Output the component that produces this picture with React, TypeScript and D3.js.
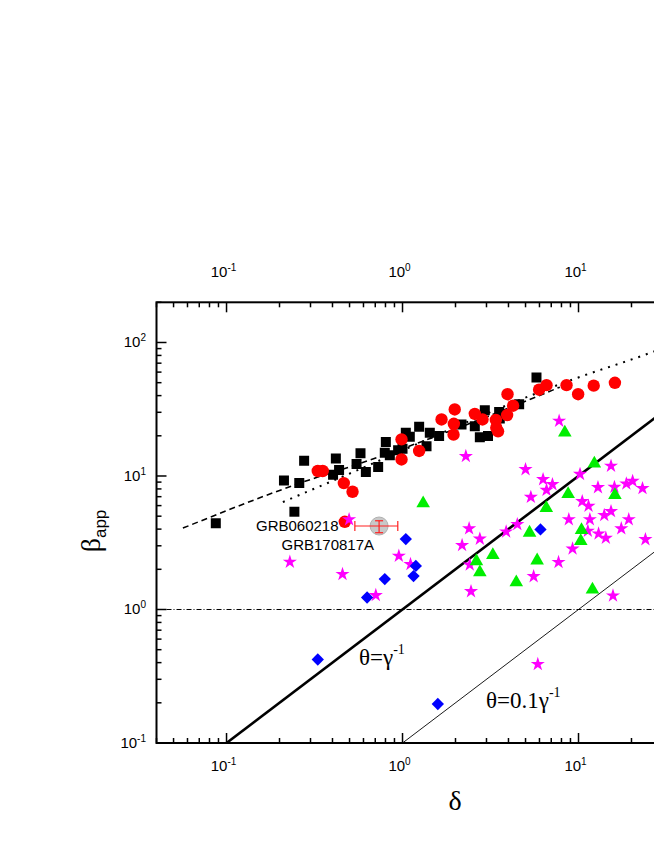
import React from 'react';
import * as d3 from 'd3';

// [delta, beta_app]
const squares: [number, number][] = [
  [0.0869, 4.42], [0.212, 9.24], [0.259, 8.85], [0.276, 13.0], [0.243, 5.40],
  [0.418, 13.5], [0.436, 11.1], [0.403, 10.2], [0.548, 12.3], [0.577, 14.8],
  [0.619, 10.7], [0.727, 11.7], [0.793, 14.9], [0.804, 18.0], [0.847, 14.3],
  [0.944, 15.6], [1.0, 16.0], [1.044, 21.1], [1.10, 19.7], [1.243, 23.4],
  [1.369, 16.7], [1.429, 21.1], [1.614, 19.9], [2.164, 24.3], [2.575, 23.6],
  [2.935, 31.1], [3.54, 30.2], [3.57, 27.0], [2.75, 19.5], [3.06, 19.9],
  [4.60, 34.5], [5.77, 54.7],
];
const circles: [number, number][] = [
  [0.330, 10.9], [0.352, 10.9], [0.464, 8.85], [0.520, 7.62], [0.470, 4.54],
  [0.987, 18.8], [0.987, 13.3], [1.243, 15.4], [1.666, 26.5], [1.98, 31.5],
  [1.957, 24.6], [1.95, 20.4], [2.575, 29.2], [2.848, 26.5], [3.39, 26.3],
  [3.95, 41.0], [4.25, 33.6], [3.93, 28.6], [3.49, 21.6], [3.41, 23.0],
  [5.97, 44.3], [6.58, 47.9], [8.55, 47.9], [9.95, 41.0], [12.2, 47.5], [16.1, 49.9],
];
const stars: [number, number][] = [
  [0.229, 2.31], [0.456, 1.87], [0.497, 4.81], [0.705, 1.30], [0.953, 2.56],
  [1.11, 2.22], [7.76, 26.3], [2.29, 14.3], [5.0, 11.4], [6.29, 9.59],
  [7.11, 8.80], [6.58, 7.98], [5.36, 7.07], [10.2, 10.5], [15.3, 12.1],
  [12.9, 8.36], [16.0, 8.40], [18.7, 8.90], [20.3, 9.32], [23.1, 8.22],
  [10.5, 6.57], [11.4, 6.06], [15.3, 5.53], [14.0, 5.17], [11.6, 4.81],
  [8.81, 4.81], [19.3, 4.81], [17.5, 4.11], [4.49, 4.42], [3.88, 3.89],
  [2.39, 4.11], [2.75, 3.44], [2.18, 3.08], [11.3, 3.94], [13.0, 3.76],
  [14.3, 3.49], [9.25, 2.90], [24.0, 3.41], [7.70, 2.30], [2.41, 2.20],
  [5.56, 1.80], [2.45, 1.39], [15.7, 1.29], [5.87, 0.396],
];
const triangles: [number, number][] = [
  [8.36, 21.1], [12.3, 12.4], [1.31, 6.24], [8.73, 7.32], [16.1, 7.19],
  [6.56, 5.75], [5.27, 3.76], [10.4, 3.94], [10.3, 3.26], [3.26, 2.56],
  [5.82, 2.33], [2.63, 2.30], [2.75, 1.90], [4.43, 1.60], [12.0, 1.41],
];
const diamonds: [number, number][] = [
  [1.044, 3.37], [0.793, 1.69], [0.629, 1.23], [1.19, 2.12], [1.155, 1.78],
  [0.330, 0.422], [1.587, 0.196], [6.08, 3.98],
];
const grbPoint = { d: 0.736, b: 4.22, dLo: 0.536, dHi: 0.94, bLo: 3.76, bHi: 4.62 };
const dashedCurve: [number, number][] = [
  [0.0565, 4.07], [0.33, 9.82], [0.50, 11.7], [2.03, 22.7], [7.83, 46.3],
];
const dottedCurve: [number, number][] = [
  [0.209, 6.38], [0.386, 9.0], [9.3, 52.9], [26.5, 85.1], [40, 105],
];
const thetaLine: [number, number][] = [[0.1, 0.1], [200, 200]];
const thetaTenthLine: [number, number][] = [[1, 0.1], [2000, 200]];
const xMajor = [0.1, 1, 10, 100];
const xMajorExp = ['-1', '0', '1', '2'];
const yMajor = [0.1, 1, 10, 100];
const yMajorExp = ['-1', '0', '1', '2'];

const W = 654;
const H = 846;
const SANS = "'Liberation Sans', Arial, sans-serif";
const SERIF = "'Liberation Serif', 'Times New Roman', serif";

export default function App() {
  const x = d3.scaleLog().domain([0.04, 100]).range([156.5, 754.5]);
  const y = d3.scaleLog().domain([0.1, 200]).range([743, 302.3]);
  const [x0, x1] = x.range();
  const [y0, y1] = y.range();

  const line = d3
    .line<[number, number]>()
    .x((d) => x(d[0]))
    .y((d) => y(d[1]))
    .curve(d3.curveMonotoneX);
  const straight = d3
    .line<[number, number]>()
    .x((d) => x(d[0]))
    .y((d) => y(d[1]));

  const sq = d3.symbol().type(d3.symbolSquare).size(100)();
  const st = d3.symbol().type(d3.symbolStar).size(62)();
  const tr = d3.symbol().type(d3.symbolTriangle).size(80)();
  const di = d3.symbol().type(d3.symbolSquare).size(76)();

  const xt = x.ticks();
  const yt = y.ticks();
  const isMajor = (v: number) => Math.abs(Math.log10(v) - Math.round(Math.log10(v))) < 1e-6;

  return (
    <svg
      width={W}
      height={H}
      style={{ position: 'absolute', left: 0, top: 0, background: '#fff' }}
    >
      <defs>
        <clipPath id="plot">
          <rect x={x0} y={y1} width={x1 - x0} height={y0 - y1} />
        </clipPath>
      </defs>
      <g clipPath="url(#plot)">
        <line x1={x0} x2={x1} y1={y(1)} y2={y(1)} stroke="#000" strokeWidth={1} strokeDasharray="5,2,1,2" />
        <path d={straight(thetaLine) || ''} fill="none" stroke="#000" strokeWidth={2.6} />
        <path d={straight(thetaTenthLine) || ''} fill="none" stroke="#000" strokeWidth={0.9} />
        <path d={line(dashedCurve) || ''} fill="none" stroke="#000" strokeWidth={1.6} strokeDasharray="6,4" />
        <path d={line(dottedCurve) || ''} fill="none" stroke="#000" strokeWidth={2} strokeDasharray="2,6" />
        {squares.map((d, i) => (
          <path key={'s' + i} d={sq} transform={`translate(${x(d[0])},${y(d[1])})`} fill="#000" />
        ))}
        {circles.map((d, i) => (
          <circle key={'c' + i} cx={x(d[0])} cy={y(d[1])} r={6.2} fill="#ff0000" />
        ))}
        {stars.map((d, i) => (
          <path key={'st' + i} d={st} transform={`translate(${x(d[0])},${y(d[1]) + 1})`} fill="#ff00ff" />
        ))}
        {triangles.map((d, i) => (
          <path key={'t' + i} d={tr} transform={`translate(${x(d[0])},${y(d[1])})`} fill="#00ee00" />
        ))}
        {diamonds.map((d, i) => (
          <path key={'d' + i} d={di} transform={`translate(${x(d[0])},${y(d[1])}) rotate(45)`} fill="#0000ff" />
        ))}
        <circle cx={x(grbPoint.d)} cy={y(grbPoint.b)} r={9} fill="#c8c8c8" stroke="#b0b0b0" strokeWidth={1} />
        <g stroke="#ff2020" strokeWidth={1.2}>
          <line x1={x(grbPoint.dLo)} x2={x(grbPoint.dHi)} y1={y(grbPoint.b)} y2={y(grbPoint.b)} />
          <line x1={x(grbPoint.dLo)} x2={x(grbPoint.dLo)} y1={y(grbPoint.b) - 5} y2={y(grbPoint.b) + 5} />
          <line x1={x(grbPoint.dHi)} x2={x(grbPoint.dHi)} y1={y(grbPoint.b) - 5} y2={y(grbPoint.b) + 5} />
          <line x1={x(grbPoint.d)} x2={x(grbPoint.d)} y1={y(grbPoint.bHi)} y2={y(grbPoint.bLo)} />
          <line x1={x(grbPoint.d) - 4} x2={x(grbPoint.d) + 4} y1={y(grbPoint.bHi)} y2={y(grbPoint.bHi)} />
          <line x1={x(grbPoint.d) - 4} x2={x(grbPoint.d) + 4} y1={y(grbPoint.bLo)} y2={y(grbPoint.bLo)} />
        </g>
      </g>

      {/* axes frame */}
      <rect x={x0} y={y1} width={x1 - x0} height={y0 - y1} fill="none" stroke="#000" strokeWidth={2} />
      {xt.map((v, i) => {
        const len = isMajor(v) ? 10 : 5;
        return (
          <g key={'xt' + i}>
            <line x1={x(v)} x2={x(v)} y1={y0} y2={y0 - len} stroke="#000" strokeWidth={1.5} />
            <line x1={x(v)} x2={x(v)} y1={y1} y2={y1 + len} stroke="#000" strokeWidth={1.5} />
          </g>
        );
      })}
      {yt.map((v, i) => {
        const len = isMajor(v) ? 10 : 5;
        return (
          <g key={'yt' + i}>
            <line x1={x0} x2={x0 + len} y1={y(v)} y2={y(v)} stroke="#000" strokeWidth={1.5} />
            <line x1={x1} x2={x1 - len} y1={y(v)} y2={y(v)} stroke="#000" strokeWidth={1.5} />
          </g>
        );
      })}
      {xMajor.map((v, i) =>
        x(v) + 20 < W ? (
          <g key={'xl' + i} fontFamily={SANS} fill="#000">
            <text x={x(v) - 3} y={771} fontSize={15} textAnchor="middle">
              10<tspan fontSize={10} dy={-6}>{xMajorExp[i]}</tspan>
            </text>
            <text x={x(v) - 3} y={277} fontSize={15} textAnchor="middle">
              10<tspan fontSize={10} dy={-6}>{xMajorExp[i]}</tspan>
            </text>
          </g>
        ) : null
      )}
      {yMajor.map((v, i) => (
        <text key={'yl' + i} x={146} y={y(v) + 5} fontSize={15} fontFamily={SANS} textAnchor="end">
          10<tspan fontSize={10} dy={-6}>{yMajorExp[i]}</tspan>
        </text>
      ))}

      {/* annotations */}
      <text x={256} y={530.7} fontSize={15} fontFamily={SANS}>GRB060218</text>
      <text x={281.5} y={550} fontSize={15} fontFamily={SANS}>GRB170817A</text>
      <text x={359} y={665} fontSize={23} fontFamily={SERIF}>
        θ=γ<tspan fontSize={14} dy={-11}>-1</tspan>
      </text>
      <text x={486} y={708} fontSize={23} fontFamily={SERIF}>
        θ=0.1γ<tspan fontSize={14} dy={-11}>-1</tspan>
      </text>

      {/* axis titles */}
      <text x={455} y={810} fontSize={28} fontFamily={SERIF} textAnchor="middle">δ</text>
      <text transform="translate(100,531) rotate(-90)" fontSize={28} fontFamily={SERIF} textAnchor="middle">
        β<tspan fontFamily={SANS} fontSize={17} dy={6}>app</tspan>
      </text>
    </svg>
  );
}
